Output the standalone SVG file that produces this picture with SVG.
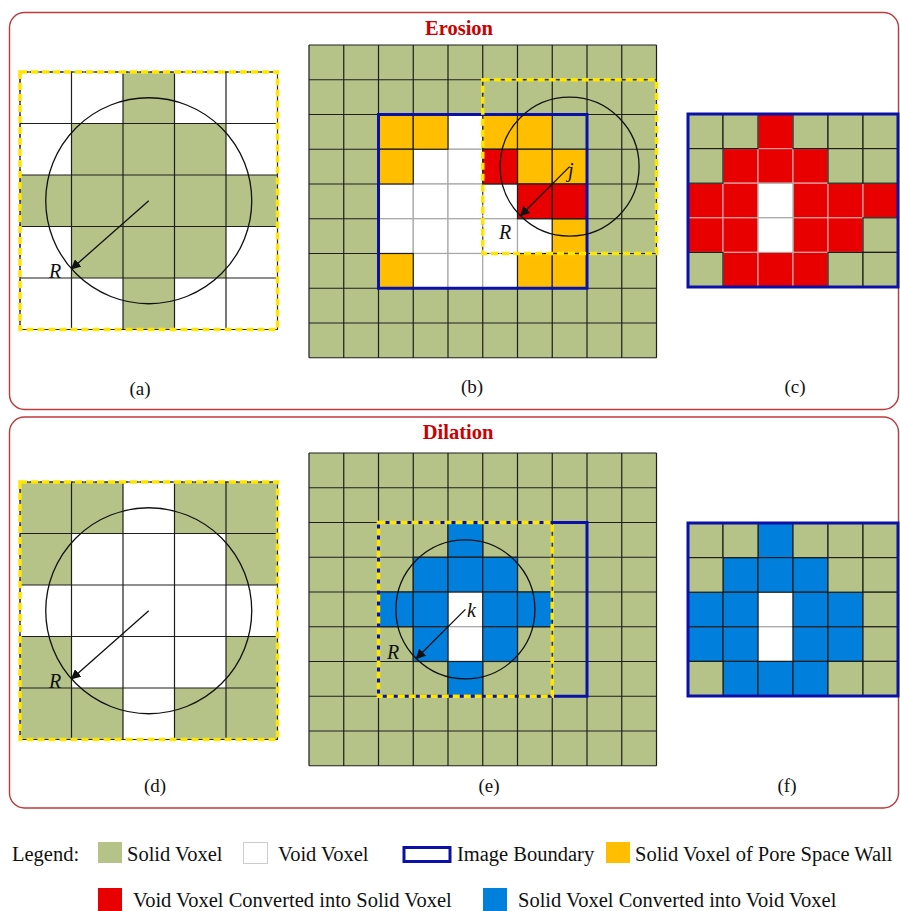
<svg xmlns="http://www.w3.org/2000/svg" xmlns:xlink="http://www.w3.org/1999/xlink" width="900" height="911" viewBox="0 0 900 911">
<style>
text{font-family:"Liberation Serif","Times New Roman",serif;fill:#111}
.title{font-weight:bold;font-size:20.5px;fill:#cc0000;text-anchor:middle}
.sub{font-size:19px;text-anchor:middle}
.it{font-style:italic;font-size:20px}
.leg{font-size:20.5px}
.frame{fill:none;stroke:#c0393b;stroke-width:1.4}
.g{fill:#b5c388}.w{fill:#fff}.o{fill:#ffbf00}.r{fill:#e80000}.b{fill:#0080dc}
.dk{stroke:#1e1e1e;stroke-width:1.2}
.lt{stroke:#a8a8a8;stroke-width:1.2}
.pk{stroke:#d9a0a0;stroke-width:1.2}
.gridln{fill:none;stroke:#1e1e1e;stroke-width:1.2}
.bnd{fill:none;stroke:#0b10a8;stroke-width:3}
.yunder{fill:none;stroke:#333;stroke-width:1;stroke-dasharray:3 2}
.ydash{fill:none;stroke:#ffe600;stroke-width:3.5;stroke-dasharray:7 4}
.circ{fill:none;stroke:#111;stroke-width:1.3}
.arr{stroke:#111;stroke-width:1.3;marker-end:url(#ah)}
</style>
<defs>
<marker id="ah" viewBox="0 0 10 10" refX="9" refY="5" markerWidth="10" markerHeight="10" markerUnits="userSpaceOnUse" orient="auto">
<path d="M0,0 L10,5 L0,10 z" fill="#111"/>
</marker>
<path id="grid10" d="M0 0V312.75M34.75 0V312.75M69.5 0V312.75M104.25 0V312.75M139 0V312.75M173.75 0V312.75M208.5 0V312.75M243.25 0V312.75M278 0V312.75M312.75 0V312.75M347.5 0V312.75M0 0H347.5M0 34.75H347.5M0 69.5H347.5M0 104.25H347.5M0 139H347.5M0 173.75H347.5M0 208.5H347.5M0 243.25H347.5M0 278H347.5M0 312.75H347.5"/>
<path id="grid5" d="M0 0V257.5M51.5 0V257.5M103 0V257.5M154.5 0V257.5M206 0V257.5M257.5 0V257.5M0 0H257.5M0 51.5H257.5M0 103H257.5M0 154.5H257.5M0 206H257.5M0 257.5H257.5"/>
</defs>
<rect width="900" height="911" fill="#fff"/>

<rect class="frame" x="9.5" y="12.5" width="889" height="397" rx="15"/>
<rect class="frame" x="9.5" y="417" width="889" height="391" rx="15"/>
<text class="title" x="459" y="35">Erosion</text>
<text class="title" x="458" y="439">Dilation</text>

<!-- (a) -->
<g id="panel-a">
<g transform="translate(20,72)">
<rect x="0" y="0" width="257.5" height="257.5" fill="#fff"/>
<rect class="g" x="103" y="0" width="51.5" height="257.5"/>
<rect class="g" x="0" y="103" width="257.5" height="51.5"/>
<rect class="g" x="51.5" y="51.5" width="154.5" height="51.5"/>
<rect class="g" x="51.5" y="154.5" width="154.5" height="51.5"/>
<use href="#grid5" class="gridln"/>
<rect class="yunder" x="0" y="0" width="257.5" height="257.5"/>
<rect class="ydash" x="0" y="0" width="257.5" height="257.5"/>
</g>
<circle class="circ" cx="148.75" cy="200.75" r="103"/>
<text class="it" x="49" y="278">R</text>
<text class="sub" x="140" y="395">(a)</text>
</g>

<!-- (b) -->
<g id="panel-b">
<g transform="translate(309,45)">
<rect class="g" x="0" y="0" width="347.5" height="312.75"/>
<use href="#grid10" class="gridln"/>
<g class="w lt">
<rect x="139" y="69.5" width="34.75" height="34.75"/>
<rect x="104.25" y="104.25" width="34.75" height="34.75"/>
<rect x="139" y="104.25" width="34.75" height="34.75"/>
<rect x="69.5" y="139" width="34.75" height="34.75"/>
<rect x="104.25" y="139" width="34.75" height="34.75"/>
<rect x="139" y="139" width="34.75" height="34.75"/>
<rect x="173.75" y="139" width="34.75" height="34.75"/>
<rect x="69.5" y="173.75" width="34.75" height="34.75"/>
<rect x="104.25" y="173.75" width="34.75" height="34.75"/>
<rect x="139" y="173.75" width="34.75" height="34.75"/>
<rect x="173.75" y="173.75" width="34.75" height="34.75"/>
<rect x="208.5" y="173.75" width="34.75" height="34.75"/>
<rect x="104.25" y="208.5" width="34.75" height="34.75"/>
<rect x="139" y="208.5" width="34.75" height="34.75"/>
<rect x="173.75" y="208.5" width="34.75" height="34.75"/>
</g>
<g class="o dk">
<rect x="69.5" y="69.5" width="34.75" height="34.75"/>
<rect x="104.25" y="69.5" width="34.75" height="34.75"/>
<rect x="173.75" y="69.5" width="34.75" height="34.75"/>
<rect x="208.5" y="69.5" width="34.75" height="34.75"/>
<rect x="69.5" y="104.25" width="34.75" height="34.75"/>
<rect x="208.5" y="104.25" width="34.75" height="34.75"/>
<rect x="243.25" y="104.25" width="34.75" height="34.75"/>
<rect x="243.25" y="173.75" width="34.75" height="34.75"/>
<rect x="69.5" y="208.5" width="34.75" height="34.75"/>
<rect x="208.5" y="208.5" width="34.75" height="34.75"/>
<rect x="243.25" y="208.5" width="34.75" height="34.75"/>
</g>
<g class="r dk">
<rect x="173.75" y="104.25" width="34.75" height="34.75"/>
<rect x="208.5" y="139" width="34.75" height="34.75"/>
<rect x="243.25" y="139" width="34.75" height="34.75"/>
</g>
<rect class="bnd" x="69.5" y="69.5" width="208.5" height="173.75"/>
<rect class="yunder" x="173.75" y="34.75" width="173.75" height="173.75"/>
<rect class="ydash" x="173.75" y="34.75" width="173.75" height="173.75"/>
</g>
<circle class="circ" cx="569.6" cy="166.6" r="69.5"/>
<text class="it" x="568" y="177">j</text>
<text class="it" x="499" y="239">R</text>
<text class="sub" x="472" y="393">(b)</text>
</g>

<!-- (c) -->
<g id="panel-c">
<g transform="translate(688,114)">
<g class="r pk">
<rect x="70" y="0" width="35" height="34.6"/>
<rect x="35" y="34.6" width="35" height="34.6"/>
<rect x="70" y="34.6" width="35" height="34.6"/>
<rect x="105" y="34.6" width="35" height="34.6"/>
<rect x="0" y="69.2" width="35" height="34.6"/>
<rect x="35" y="69.2" width="35" height="34.6"/>
<rect x="105" y="69.2" width="35" height="34.6"/>
<rect x="140" y="69.2" width="35" height="34.6"/>
<rect x="175" y="69.2" width="35" height="34.6"/>
<rect x="0" y="103.8" width="35" height="34.6"/>
<rect x="35" y="103.8" width="35" height="34.6"/>
<rect x="105" y="103.8" width="35" height="34.6"/>
<rect x="140" y="103.8" width="35" height="34.6"/>
<rect x="35" y="138.4" width="35" height="34.6"/>
<rect x="70" y="138.4" width="35" height="34.6"/>
<rect x="105" y="138.4" width="35" height="34.6"/>
</g>
<g class="w lt">
<rect x="70" y="69.2" width="35" height="34.6"/>
<rect x="70" y="103.8" width="35" height="34.6"/>
</g>
<g class="g dk">
<rect x="0" y="0" width="35" height="34.6"/>
<rect x="35" y="0" width="35" height="34.6"/>
<rect x="105" y="0" width="35" height="34.6"/>
<rect x="140" y="0" width="35" height="34.6"/>
<rect x="175" y="0" width="35" height="34.6"/>
<rect x="0" y="34.6" width="35" height="34.6"/>
<rect x="140" y="34.6" width="35" height="34.6"/>
<rect x="175" y="34.6" width="35" height="34.6"/>
<rect x="175" y="103.8" width="35" height="34.6"/>
<rect x="0" y="138.4" width="35" height="34.6"/>
<rect x="140" y="138.4" width="35" height="34.6"/>
<rect x="175" y="138.4" width="35" height="34.6"/>
</g>
<rect class="bnd" x="0" y="0" width="210" height="173"/>
</g>
<text class="sub" x="795" y="393">(c)</text>
</g>

<!-- (d) -->
<g id="panel-d">
<g transform="translate(20,482)">
<rect x="0" y="0" width="257.5" height="257.5" fill="#fff"/>
<rect class="g" x="0" y="0" width="103" height="51.5"/>
<rect class="g" x="154.5" y="0" width="103" height="51.5"/>
<rect class="g" x="0" y="51.5" width="51.5" height="51.5"/>
<rect class="g" x="206" y="51.5" width="51.5" height="51.5"/>
<rect class="g" x="0" y="154.5" width="51.5" height="51.5"/>
<rect class="g" x="206" y="154.5" width="51.5" height="51.5"/>
<rect class="g" x="0" y="206" width="103" height="51.5"/>
<rect class="g" x="154.5" y="206" width="103" height="51.5"/>
<use href="#grid5" class="gridln"/>
<rect class="yunder" x="0" y="0" width="257.5" height="257.5"/>
<rect class="ydash" x="0" y="0" width="257.5" height="257.5"/>
</g>
<circle class="circ" cx="148.75" cy="610.75" r="103"/>
<text class="it" x="49" y="688">R</text>
<text class="sub" x="155" y="792">(d)</text>
</g>

<!-- (e) -->
<g id="panel-e">
<g transform="translate(309,453)">
<rect class="g" x="0" y="0" width="347.5" height="312.75"/>
<use href="#grid10" class="gridln"/>
<g class="w lt">
<rect x="139" y="139" width="34.75" height="34.75"/>
<rect x="139" y="173.75" width="34.75" height="34.75"/>
</g>
<g class="b dk">
<rect x="139" y="69.5" width="34.75" height="34.75"/>
<rect x="104.25" y="104.25" width="34.75" height="34.75"/>
<rect x="139" y="104.25" width="34.75" height="34.75"/>
<rect x="173.75" y="104.25" width="34.75" height="34.75"/>
<rect x="69.5" y="139" width="34.75" height="34.75"/>
<rect x="104.25" y="139" width="34.75" height="34.75"/>
<rect x="173.75" y="139" width="34.75" height="34.75"/>
<rect x="208.5" y="139" width="34.75" height="34.75"/>
<rect x="104.25" y="173.75" width="34.75" height="34.75"/>
<rect x="173.75" y="173.75" width="34.75" height="34.75"/>
<rect x="139" y="208.5" width="34.75" height="34.75"/>
</g>
<rect class="bnd" x="69.5" y="69.5" width="208.5" height="173.75"/>
<rect class="ydash" x="69.5" y="69.5" width="173.75" height="173.75"/>
</g>
<circle class="circ" cx="465.4" cy="609.4" r="69.5"/>
<text class="it" x="467" y="617">k</text>
<text class="it" x="387" y="659">R</text>
<text class="sub" x="489" y="792">(e)</text>
</g>

<!-- (f) -->
<g id="panel-f">
<g transform="translate(688,523)">
<g class="w lt">
<rect x="70" y="69.2" width="35" height="34.6"/>
<rect x="70" y="103.8" width="35" height="34.6"/>
</g>
<g class="b dk">
<rect x="70" y="0" width="35" height="34.6"/>
<rect x="35" y="34.6" width="35" height="34.6"/>
<rect x="70" y="34.6" width="35" height="34.6"/>
<rect x="105" y="34.6" width="35" height="34.6"/>
<rect x="0" y="69.2" width="35" height="34.6"/>
<rect x="35" y="69.2" width="35" height="34.6"/>
<rect x="105" y="69.2" width="35" height="34.6"/>
<rect x="140" y="69.2" width="35" height="34.6"/>
<rect x="0" y="103.8" width="35" height="34.6"/>
<rect x="35" y="103.8" width="35" height="34.6"/>
<rect x="105" y="103.8" width="35" height="34.6"/>
<rect x="140" y="103.8" width="35" height="34.6"/>
<rect x="35" y="138.4" width="35" height="34.6"/>
<rect x="70" y="138.4" width="35" height="34.6"/>
<rect x="105" y="138.4" width="35" height="34.6"/>
</g>
<g class="g dk">
<rect x="0" y="0" width="35" height="34.6"/>
<rect x="35" y="0" width="35" height="34.6"/>
<rect x="105" y="0" width="35" height="34.6"/>
<rect x="140" y="0" width="35" height="34.6"/>
<rect x="175" y="0" width="35" height="34.6"/>
<rect x="0" y="34.6" width="35" height="34.6"/>
<rect x="140" y="34.6" width="35" height="34.6"/>
<rect x="175" y="34.6" width="35" height="34.6"/>
<rect x="175" y="69.2" width="35" height="34.6"/>
<rect x="175" y="103.8" width="35" height="34.6"/>
<rect x="0" y="138.4" width="35" height="34.6"/>
<rect x="140" y="138.4" width="35" height="34.6"/>
<rect x="175" y="138.4" width="35" height="34.6"/>
</g>
<rect class="bnd" x="0" y="0" width="210" height="173"/>
</g>
<text class="sub" x="787" y="792">(f)</text>
</g>

<!-- connectors: radius arrows -->
<g id="connectors">
<line class="arr" x1="148.75" y1="200.75" x2="71.5" y2="268.9"/>
<line class="arr" x1="569.6" y1="166.6" x2="520.5" y2="215.7"/>
<line class="arr" x1="148.75" y1="610.75" x2="71.5" y2="678.9"/>
<line class="arr" x1="465.4" y1="609.4" x2="416.3" y2="658.5"/>
</g>

<!-- legend -->
<g id="legend">
<text class="leg" x="12" y="861">Legend:</text>
<rect class="g" x="98" y="842" width="24" height="21"/>
<text class="leg" x="127" y="861">Solid Voxel</text>
<rect x="243.5" y="842.5" width="24" height="21" fill="#fff" stroke="#ccc" stroke-width="1"/>
<text class="leg" x="278" y="861">Void Voxel</text>
<rect class="bnd" x="404" y="847.5" width="46" height="14"/>
<text class="leg" x="457" y="861">Image Boundary</text>
<rect class="o" x="606" y="842" width="24" height="21"/>
<text class="leg" x="635" y="861">Solid Voxel of Pore Space Wall</text>
<rect class="r" x="98" y="888" width="24" height="23"/>
<text class="leg" x="133" y="907">Void Voxel Converted into Solid Voxel</text>
<rect class="b" x="483" y="888" width="24" height="23"/>
<text class="leg" x="518" y="907">Solid Voxel Converted into Void Voxel</text>
</g>
</svg>
